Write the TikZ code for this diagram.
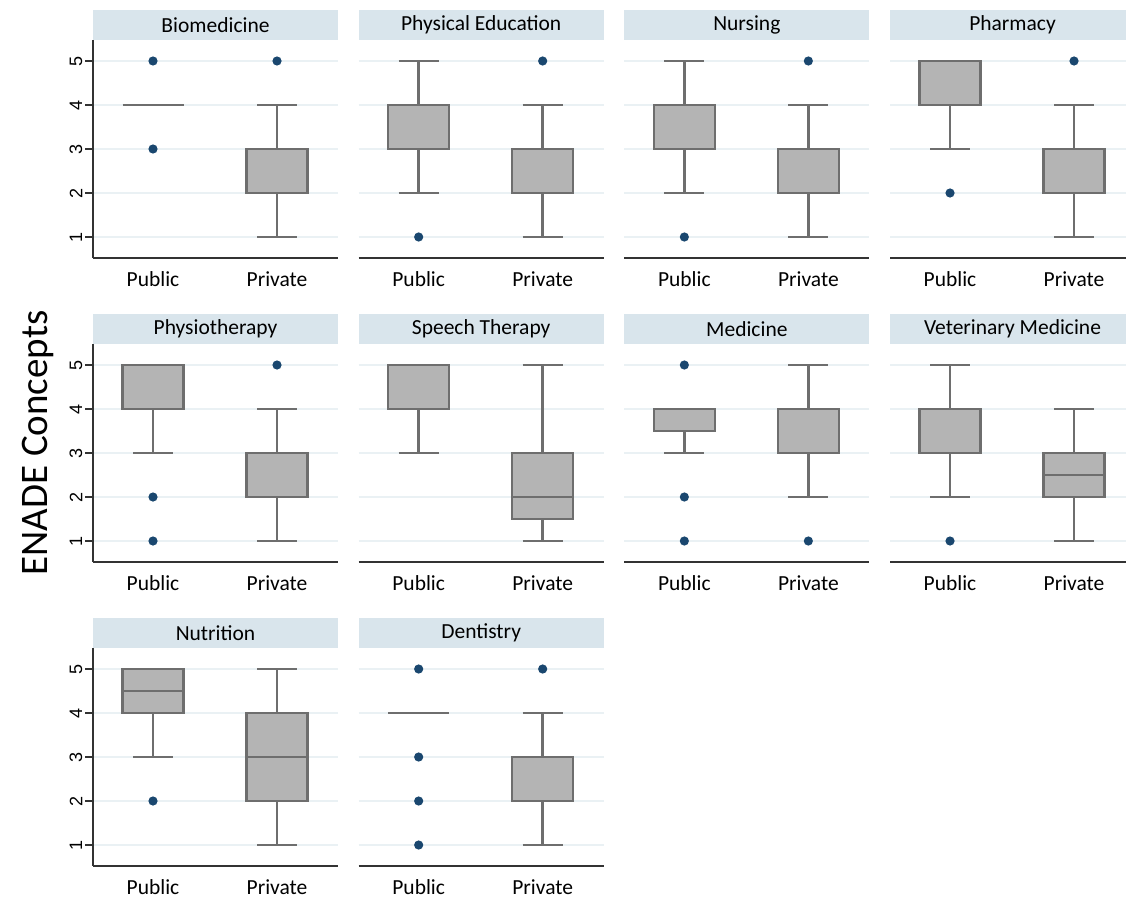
\documentclass[tikz,border=0pt]{standalone}
\usepackage{fontspec}
\setmainfont{Carlito}
\newfontfamily\tickfont{Liberation Sans}
\definecolor{headfill}{HTML}{D9E5EC}
\definecolor{gridcol}{HTML}{EAF1F4}
\definecolor{boxfill}{HTML}{B4B4B4}
\definecolor{boxline}{HTML}{6E6E6E}
\definecolor{dotcol}{HTML}{1A476F}
\tikzset{%
	% Specifications for style of the chart parts:
	header/.style = {fill=headfill, draw=none},
	title/.style = {font=\fontsize{21.5}{25}\selectfont, inner sep=0pt},
	grid line/.style = {draw=gridcol, line width=2.2pt},
	axis line/.style = {draw=black!80, line width=1.5pt},
	whisker/.style = {draw=boxline, line width=2.4pt},
	boxbody/.style = {draw=boxline, fill=boxfill, line width=2.6pt},
	outlier/.style = {fill=dotcol, draw=none},
	group/.style = {font=\fontsize{21.5}{25}\selectfont, inner sep=0pt},
	ticklab/.style = {font=\tickfont\fontsize{18}{21}\selectfont, rotate=90, inner sep=0pt},
}

% frame of one panel: #1 name, #2 title
\newcommand{\panelframe}[2]{%
	\fill[header] (0,6.159) rectangle (245,5.477);
	\node (#1-title) [title] at (122.5,5.818) {#2};
	\foreach \v in {1,...,5}
		\draw[grid line] (0,\v) -- (245,\v);
	\draw[axis line] (0,0.523) -- (245,0.523);
	\node (#1-pub) [group] at (60,0.05) {Public};
	\node (#1-priv) [group] at (184,0.05) {Private};
}
% left axis of a row: #1 name
\newcommand{\yaxis}[1]{%
	\draw[axis line] (0,5.477) -- (0,0.523);
	\foreach \v in {1,...,5}{
		\draw[axis line] (-8,\v) -- (0,\v);
		\node (#1-tick\v) [ticklab] at (-17,\v) {\v};
	}
}
% box plot: x, low, q1, median, q3, high
\newcommand{\bxp}[6]{%
	\draw[whisker] (#1,#2) -- (#1,#3) (#1,#5) -- (#1,#6);
	\draw[whisker] (#1-20,#2) -- (#1+20,#2) (#1-20,#6) -- (#1+20,#6);
	\draw[boxbody] (#1-30.5,#3) rectangle (#1+30.5,#5);
	\draw[whisker] (#1-30.5,#4) -- (#1+30.5,#4);
}
% box squeezed to one value
\newcommand{\bxflat}[2]{%
	\draw[whisker] (#1-30.5,#2) -- (#1+30.5,#2);
}
% outliers: x, list of values
\newcommand{\outl}[2]{%
	\foreach \o in {#2}
		\fill[outlier] (#1,\o) circle [radius=4.6pt];
}

\begin{document}
\begin{tikzpicture}[x=1pt,y=-1pt]
	\clip (0,0) rectangle (1126,899);
	\fill[white] (0,0) rectangle (1126,899);

	\node (ylab) [rotate=90, font=\fontsize{39}{46}\selectfont, inner sep=0pt] at (38,443) {ENADE Concepts};

	% first row
	\begin{scope}[shift={(93,10+271)}, y=44pt]
		\panelframe{bio}{Biomedicine}
		\yaxis{bio}
		\bxflat{60}{4}
		\outl{60}{5,3}
		\bxp{184}{1}{2}{2}{3}{4}
		\outl{184}{5}
	\end{scope}
	\begin{scope}[shift={(93+265.67,10+271)}, y=44pt]
		\panelframe{phys}{Physical Education}
		\bxp{60}{2}{3}{3}{4}{5}
		\outl{60}{1}
		\bxp{184}{1}{2}{2}{3}{4}
		\outl{184}{5}
	\end{scope}
	\begin{scope}[shift={(93+2*265.67,10+271)}, y=44pt]
		\panelframe{nurs}{Nursing}
		\bxp{60}{2}{3}{3}{4}{5}
		\outl{60}{1}
		\bxp{184}{1}{2}{2}{3}{4}
		\outl{184}{5}
	\end{scope}
	\begin{scope}[shift={(93+3*265.67,10+271)}, y=44pt]
		\panelframe{pharm}{Pharmacy}
		\bxp{60}{3}{4}{4}{5}{5}
		\outl{60}{2}
		\bxp{184}{1}{2}{2}{3}{4}
		\outl{184}{5}
	\end{scope}

	% second row
	\begin{scope}[shift={(93,10+304+271)}, y=44pt]
		\panelframe{physio}{Physiotherapy}
		\yaxis{physio}
		\bxp{60}{3}{4}{4}{5}{5}
		\outl{60}{2,1}
		\bxp{184}{1}{2}{2}{3}{4}
		\outl{184}{5}
	\end{scope}
	\begin{scope}[shift={(93+265.67,10+304+271)}, y=44pt]
		\panelframe{speech}{Speech Therapy}
		\bxp{60}{3}{4}{4}{5}{5}
		\bxp{184}{1}{1.5}{2}{3}{5}
	\end{scope}
	\begin{scope}[shift={(93+2*265.67,10+304+271)}, y=44pt]
		\panelframe{med}{Medicine}
		\bxp{60}{3}{3.5}{4}{4}{4}
		\outl{60}{5,2,1}
		\bxp{184}{2}{3}{3}{4}{5}
		\outl{184}{1}
	\end{scope}
	\begin{scope}[shift={(93+3*265.67,10+304+271)}, y=44pt]
		\panelframe{vet}{Veterinary Medicine}
		\bxp{60}{2}{3}{3}{4}{5}
		\outl{60}{1}
		\bxp{184}{1}{2}{2.5}{3}{4}
	\end{scope}

	% third row
	\begin{scope}[shift={(93,10+2*304+271)}, y=44pt]
		\panelframe{nutr}{Nutrition}
		\yaxis{nutr}
		\bxp{60}{3}{4}{4.5}{5}{5}
		\outl{60}{2}
		\bxp{184}{1}{2}{3}{4}{5}
	\end{scope}
	\begin{scope}[shift={(93+265.67,10+2*304+271)}, y=44pt]
		\panelframe{dent}{Dentistry}
		\bxflat{60}{4}
		\outl{60}{5,3,2,1}
		\bxp{184}{1}{2}{2}{3}{4}
		\outl{184}{5}
	\end{scope}
\end{tikzpicture}
\end{document}
